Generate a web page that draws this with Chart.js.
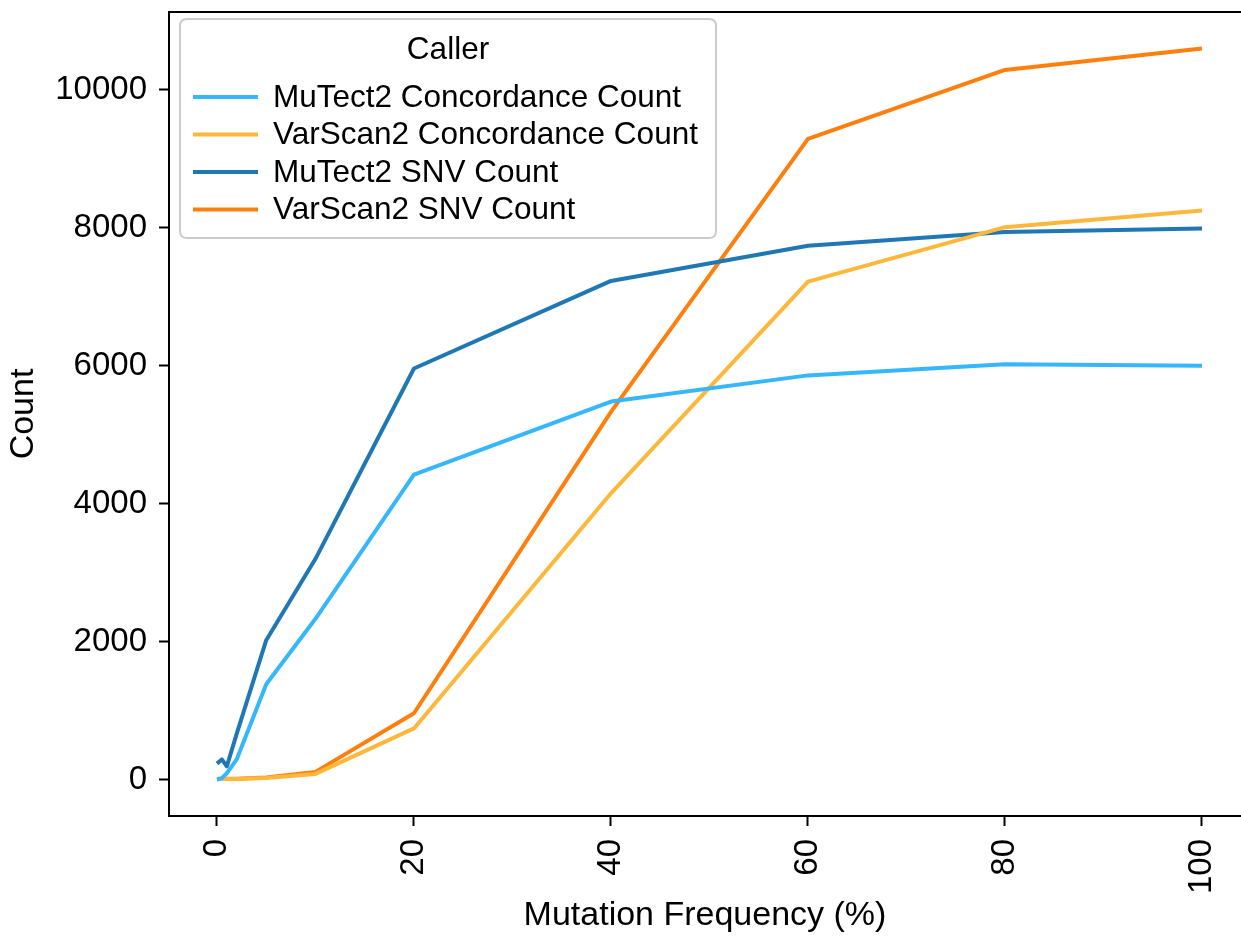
<!DOCTYPE html>
<html>
<head>
<meta charset="utf-8">
<script src="https://cdn.jsdelivr.net/npm/chart.js@4/dist/chart.umd.min.js"></script>
<style>
  html, body { margin: 0; padding: 0; background: #fff; overflow: hidden; }
  canvas { display: block; }
</style>
</head>
<body>
<canvas id="chart" width="1241" height="938"></canvas>
<script>
// mutation frequency (%) sampled
const freqs = [0, 0.5, 1, 2, 5, 10, 20, 40, 60, 80, 100];

const mutect2Concordance = [0, 20, 90, 290, 1380, 2330, 4420, 5480, 5860, 6020, 6000];
const varscan2Concordance = [5, 5, 5, 8, 20, 80, 740, 4150, 7220, 8010, 8250];
const mutect2Snv = [230, 290, 190, 660, 2020, 3200, 5960, 7230, 7740, 7940, 7990];
const varscan2Snv = [10, 10, 10, 12, 30, 110, 960, 5330, 9290, 10290, 10600];

const seriesLabels = ['MuTect2 Concordance Count', 'VarScan2 Concordance Count', 'MuTect2 SNV Count', 'VarScan2 SNV Count'];
const seriesColors = ['#36b6fb', '#fdb83c', '#1f77b4', '#ff7f0e'];

const xTicks = [0, 20, 40, 60, 80, 100];
const yTicks = [0, 2000, 4000, 6000, 8000, 10000];

// the original figure is cut off on the right, so the visible x range ends before 105
const xMin = -4.87, xMax = 103.96;
const yMin = -530, yMax = 11130;

const legendTitle = 'Caller';
const xTitle = 'Mutation Frequency (%)';
const yTitle = 'Count';

const FONT = '"Liberation Sans", Arial, Helvetica, sans-serif';

function toPoints(vals) {
    return freqs.map((f, i) => ({ x: f, y: vals[i] }));
}

const allSeries = [mutect2Concordance, varscan2Concordance, mutect2Snv, varscan2Snv];

const datasets = allSeries.map((vals, i) => ({
    label: seriesLabels[i],
    data: toPoints(vals),
    borderColor: seriesColors[i],
    backgroundColor: seriesColors[i],
    borderWidth: 4,
    pointRadius: 0,
    tension: 0,
    fill: false,
    borderJoinStyle: 'round',
    borderCapStyle: 'butt'
}));

function noPad(axis) {
    axis.paddingTop = 0;
    axis.paddingBottom = 0;
    axis.paddingLeft = 0;
    axis.paddingRight = 0;
}

// frame (top, left, bottom) + boxed legend like matplotlib
const framePlugin = {
    id: 'frameAndLegend',
    afterDatasetsDraw(chart) {
        const ctx = chart.ctx;
        const ca = chart.chartArea;
        ctx.save();
        ctx.strokeStyle = '#000';
        ctx.lineWidth = 2;
        ctx.beginPath();
        ctx.moveTo(chart.width, ca.top);
        ctx.lineTo(ca.left, ca.top);
        ctx.lineTo(ca.left, ca.bottom);
        ctx.lineTo(chart.width, ca.bottom);
        ctx.stroke();

        // legend box
        const bx = ca.left + 11, by = ca.top + 7, bw = 536, bh = 219, r = 7;
        ctx.beginPath();
        ctx.moveTo(bx + r, by);
        ctx.lineTo(bx + bw - r, by);
        ctx.quadraticCurveTo(bx + bw, by, bx + bw, by + r);
        ctx.lineTo(bx + bw, by + bh - r);
        ctx.quadraticCurveTo(bx + bw, by + bh, bx + bw - r, by + bh);
        ctx.lineTo(bx + r, by + bh);
        ctx.quadraticCurveTo(bx, by + bh, bx, by + bh - r);
        ctx.lineTo(bx, by + r);
        ctx.quadraticCurveTo(bx, by, bx + r, by);
        ctx.closePath();
        ctx.fillStyle = 'rgba(255,255,255,0.85)';
        ctx.fill();
        ctx.strokeStyle = '#cccccc';
        ctx.lineWidth = 2;
        ctx.stroke();

        ctx.fillStyle = '#000';
        ctx.font = '31.5px ' + FONT;
        ctx.textBaseline = 'middle';
        ctx.textAlign = 'center';
        ctx.fillText(legendTitle, bx + bw / 2, by + 31);

        ctx.textAlign = 'left';
        chart.data.datasets.forEach((ds, i) => {
            const ry = by + 78 + i * 37.5;
            ctx.strokeStyle = ds.borderColor;
            ctx.lineWidth = 4;
            ctx.beginPath();
            ctx.moveTo(bx + 13, ry);
            ctx.lineTo(bx + 78, ry);
            ctx.stroke();
            ctx.fillStyle = '#000';
            ctx.fillText(ds.label, bx + 93, ry + 1);
        });
        ctx.restore();
    }
};

const ctx = document.getElementById('chart').getContext('2d');
const chart = new Chart(ctx, {
    type: 'line',
    data: { datasets: datasets },
    options: {
        responsive: false,
        animation: false,
        devicePixelRatio: 1,
        layout: { padding: { top: 12, right: 0, left: 0, bottom: 0 } },
        plugins: {
            legend: { display: false },
            tooltip: { enabled: false }
        },
        scales: {
            x: {
                type: 'linear',
                min: xMin,
                max: xMax,
                afterBuildTicks: axis => { axis.ticks = xTicks.map(v => ({ value: v })); },
                afterFit: axis => { axis.height = 122; noPad(axis); },
                border: { display: false },
                grid: { drawOnChartArea: false, drawTicks: true, tickLength: 10, tickColor: '#000', tickWidth: 2 },
                ticks: {
                    minRotation: 90,
                    maxRotation: 90,
                    padding: 13,
                    color: '#000',
                    font: { family: FONT, size: 33 },
                    callback: v => String(v)
                },
                title: {
                    display: true,
                    text: xTitle,
                    color: '#000',
                    font: { family: FONT, size: 34 },
                    padding: { top: 0, bottom: 2 }
                }
            },
            y: {
                type: 'linear',
                min: yMin,
                max: yMax,
                afterBuildTicks: axis => { axis.ticks = yTicks.map(v => ({ value: v })); },
                afterFit: axis => { axis.width = 169; noPad(axis); },
                border: { display: false },
                grid: { drawOnChartArea: false, drawTicks: true, tickLength: 10, tickColor: '#000', tickWidth: 2 },
                ticks: {
                    padding: 12,
                    color: '#000',
                    font: { family: FONT, size: 33 },
                    callback: v => String(v)
                },
                title: {
                    display: true,
                    text: yTitle,
                    color: '#000',
                    font: { family: FONT, size: 34 },
                    padding: { top: 3, bottom: 0 }
                }
            }
        }
    },
    plugins: [framePlugin]
});
</script>
</body>
</html>
